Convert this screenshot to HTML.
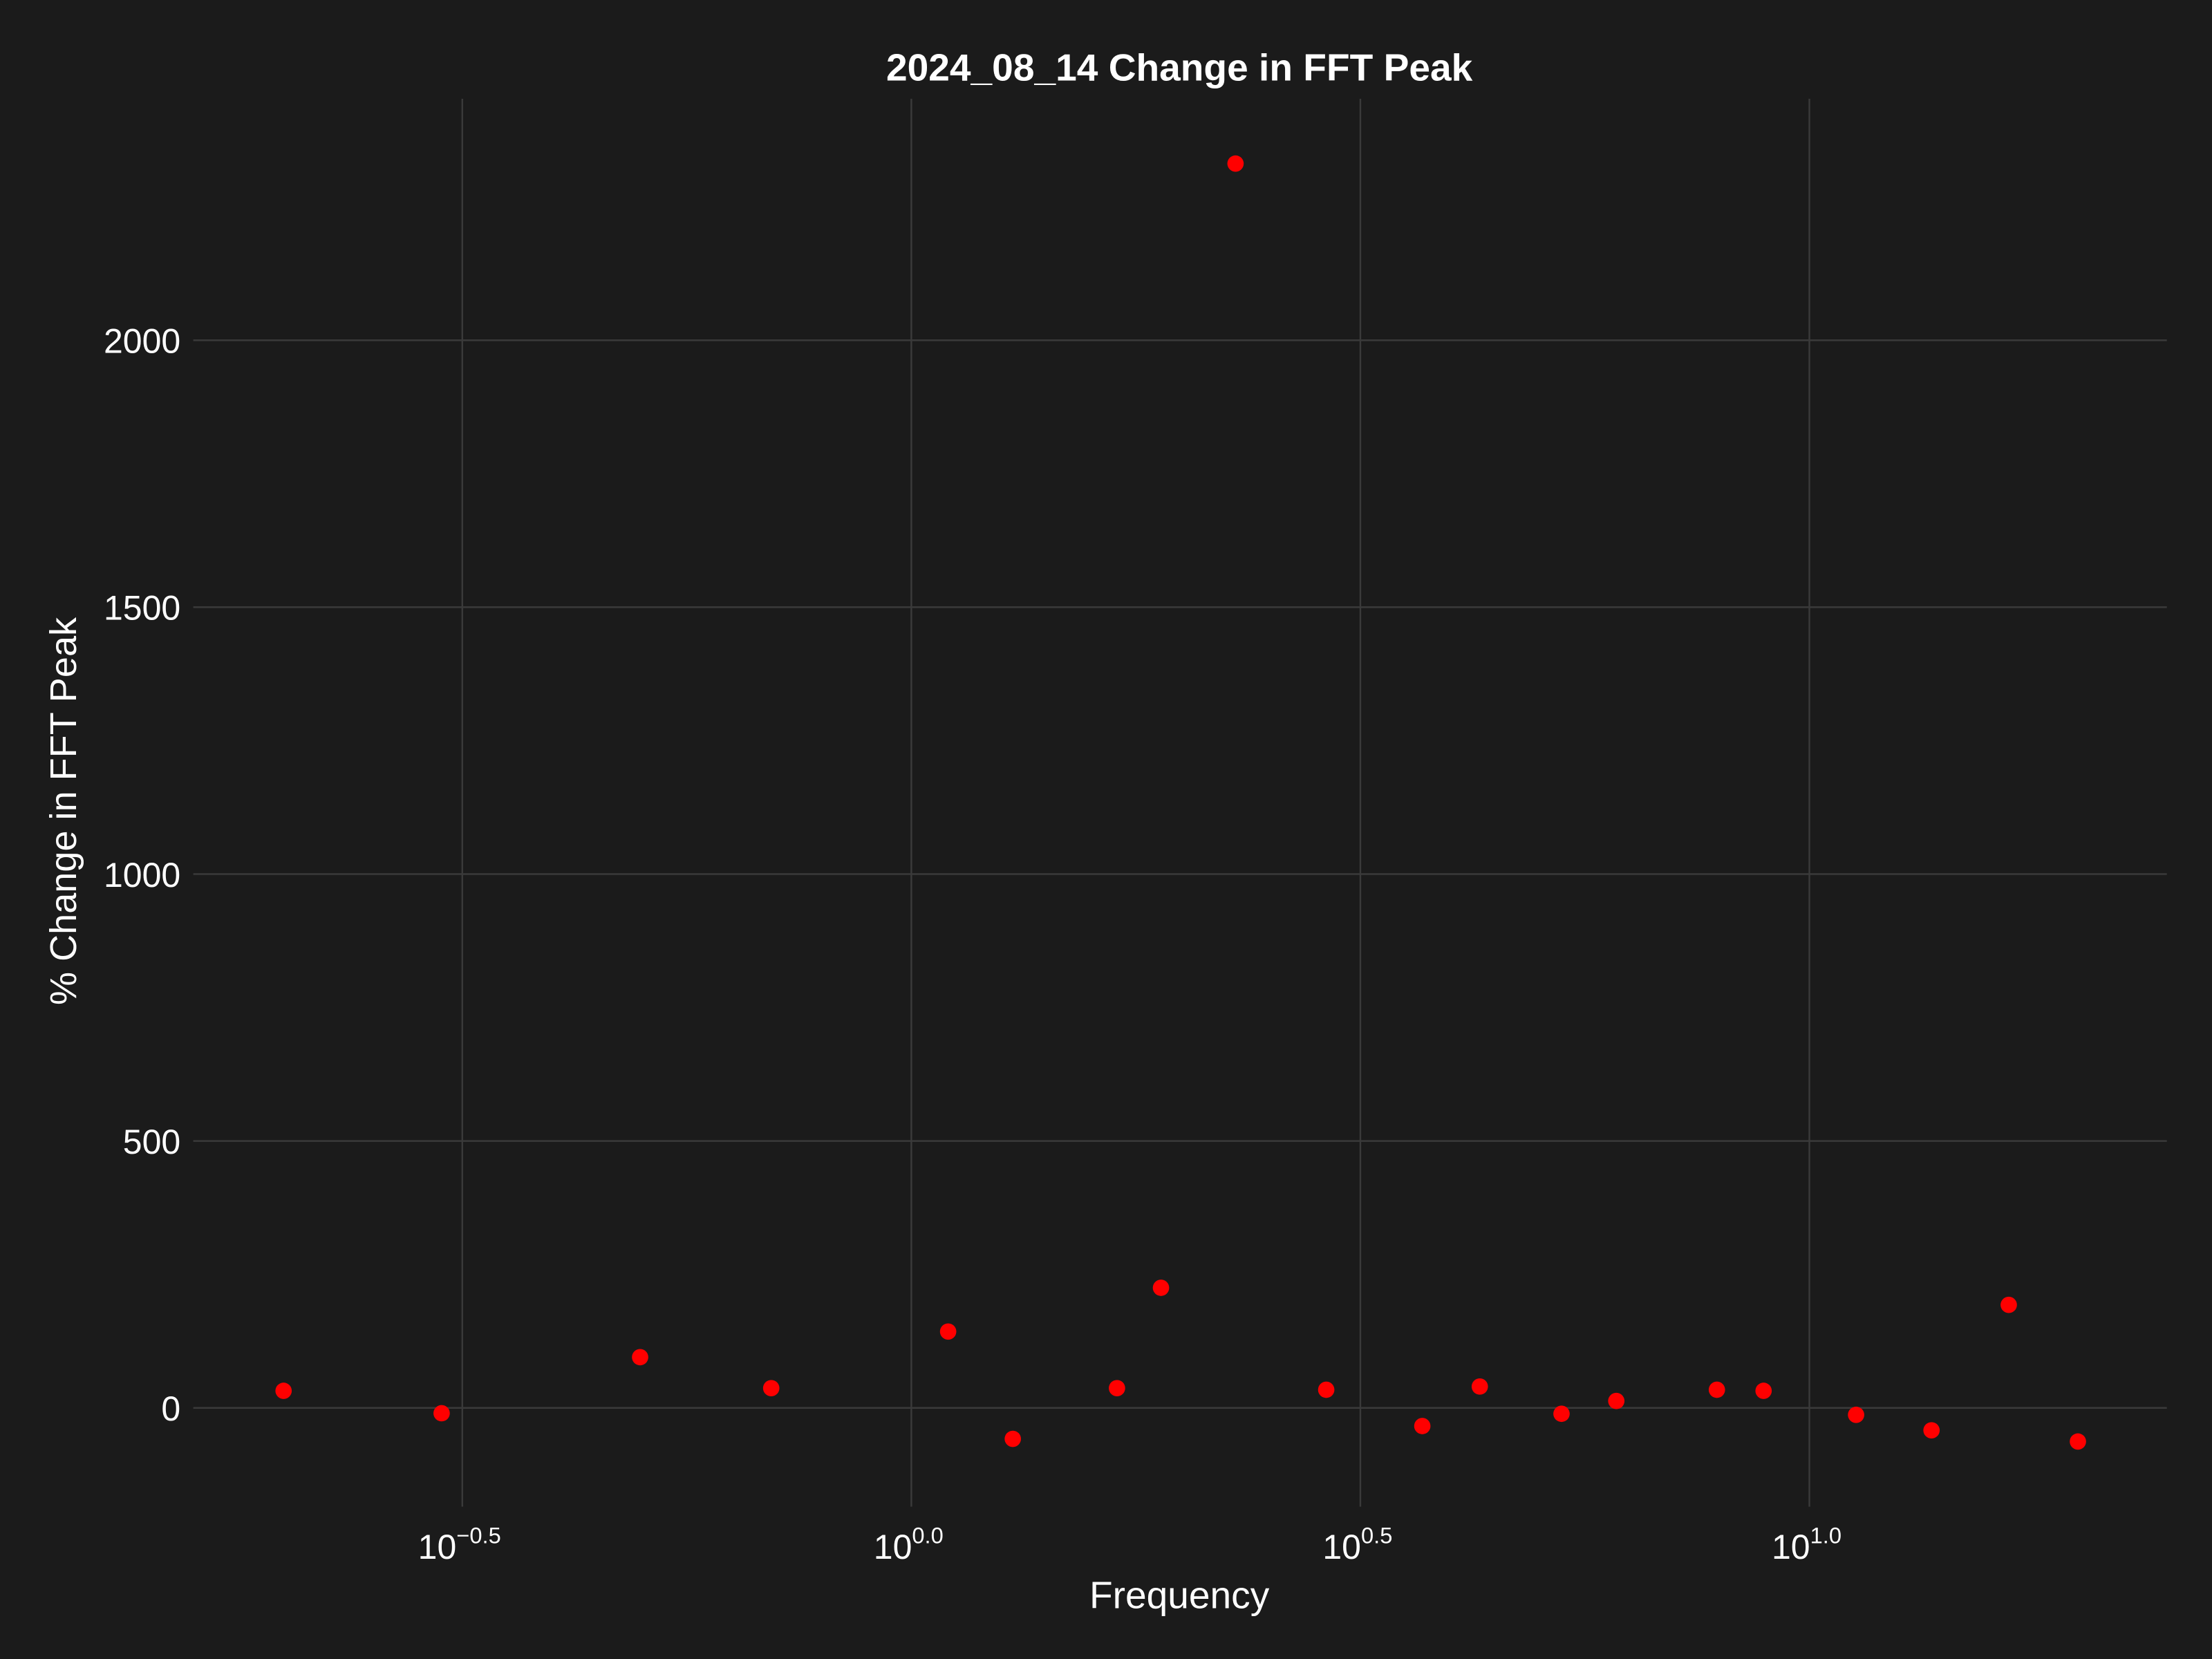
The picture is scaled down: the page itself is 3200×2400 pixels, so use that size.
<!DOCTYPE html>
<html><head><meta charset="utf-8"><style>
html,body{margin:0;padding:0;background:#1b1b1b;}
svg{display:block;font-family:"Liberation Sans",sans-serif;}
</style></head><body>
<svg id="chart" width="3200" height="2400" viewBox="0 0 1568 1176" preserveAspectRatio="none" xmlns="http://www.w3.org/2000/svg">
<rect width="1568" height="1176" fill="#1b1b1b"/>
<g id="grid"></g>
<g id="ticks"></g>
<g id="points"></g>
<text x="836" y="57" fill="#fff" font-size="27" font-weight="bold" text-anchor="middle">2024_08_14 Change in FFT Peak</text>
<text x="836" y="1140" fill="#fff" font-size="27" text-anchor="middle">Frequency</text>
<text transform="translate(54,575) rotate(-90)" fill="#fff" font-size="26.5" text-anchor="middle">% Change in FFT Peak</text>
</svg>
<script>
const logFreq = [-0.699,-0.523,-0.302,-0.156,0.041,0.113,0.229,0.278,0.361,0.462,0.569,0.633,0.724,0.785,0.897,0.949,1.052,1.136,1.222,1.299];
const pctChange = [32,-10,95,37,143,-58,37,225,2331,34,-34,40,-11,13,34,32,-13,-42,193,-63];
const xTicks = [-0.5,0,0.5,1.0];
const xTickLabels = ["\u22120.5","0.0","0.5","1.0"];
const yTicks = [0,500,1000,1500,2000];

const NS="http://www.w3.org/2000/svg";
const L=137,R=1536,T=70,B=1068;
function xs(v){return 646+(v-0)*636.6;}
function ys(v){return 998-v*189.2/500;}
function mk(tag,attrs,parent){const e=document.createElementNS(NS,tag);for(const k in attrs)e.setAttribute(k,attrs[k]);parent.appendChild(e);return e;}
const grid=document.getElementById('grid'),ticks=document.getElementById('ticks'),pts=document.getElementById('points');
yTicks.forEach(v=>{
  const l=mk('line',{x1:L,x2:R,y1:ys(v),y2:ys(v),stroke:'#3a3a3a','stroke-width':1.2},grid);
  
  
  const t=mk('text',{x:128,y:ys(v)+9,fill:'#fff','font-size':24.5,'text-anchor':'end'},ticks);
  t.textContent=v;
  
  
});
xTicks.forEach((v,i)=>{
  const l=mk('line',{x1:xs(v),x2:xs(v),y1:T,y2:B,stroke:'#3a3a3a','stroke-width':1.2},grid);
  
  
  const t=mk('text',{x:xs(v)-2,y:1105,fill:'#fff','font-size':24.5,'text-anchor':'middle'},ticks);
  
  
  const a=document.createElementNS(NS,'tspan');a.textContent='10';t.appendChild(a);
  const b=document.createElementNS(NS,'tspan');b.setAttribute('font-size','16');b.setAttribute('dy','-11');b.textContent=xTickLabels[i];t.appendChild(b);
});
logFreq.forEach((v,i)=>{
  const c=mk('circle',{cx:xs(v),cy:ys(pctChange[i]),r:5.8,fill:'#ff0000'},pts);
  
  
});
</script>
</body></html>
